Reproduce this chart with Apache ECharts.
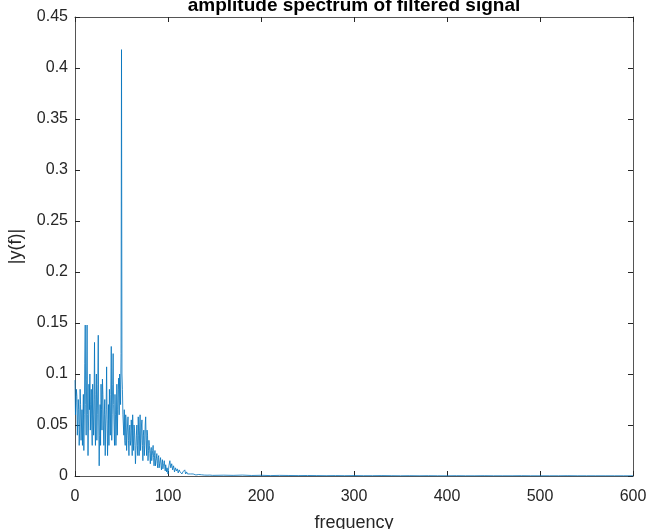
<!DOCTYPE html>
<html>
<head>
<meta charset="utf-8">
<script src="https://cdn.jsdelivr.net/npm/echarts@6/dist/echarts.min.js"></script>
<style>html,body{margin:0;padding:0;background:#fff;}#c{width:651px;height:529px;}</style>
</head>
<body>
<div id="c"></div>
<script>
// |y(f)| at whole-Hz frequencies 0..150
var ampLow = [
 0.094,0.072,0.078,0.055,0.065,0.045,0.070,0.050,0.030,0.080,
 0.060,0.148,0.040,0.148,0.020,0.090,0.100,0.070,0.050,0.090,
 0.040,0.131,0.030,0.100,0.060,0.138,0.010,0.070,0.090,0.045,
 0.080,0.030,0.075,0.050,0.107,0.020,0.070,0.085,0.040,0.127,
 0.060,0.120,0.050,0.080,0.030,0.090,0.065,0.096,0.100,0.070,
 0.418,0.085,0.050,0.065,0.030,0.055,0.040,0.058,0.020,0.050,
 0.035,0.045,0.060,0.025,0.045,0.012,0.040,0.030,0.058,0.020,
 0.060,0.035,0.055,0.015,0.045,0.030,0.058,0.020,0.040,0.025,
 0.030,0.012,0.028,0.020,0.030,0.010,0.025,0.015,0.022,0.008,
 0.020,0.012,0.018,0.006,0.016,0.010,0.015,0.005,0.012,0.008,
 0.002,0.010,0.015,0.008,0.012,0.006,0.010,0.004,0.008,0.005,
 0.007,0.003,0.006,0.004,0.005,0.002,0.004,0.003,0.006,0.002,
 0.004,0.002,0.003,0.001,0.002,0.002,0.001,0.002,0.001,0.0015,
 0.001,0.0012,0.0008,0.0015,0.001,0.0008,0.0012,0.0007,0.001,0.0009,
 0.0006,0.001,0.0008,0.0012,0.0006,0.0009,0.0007,0.001,0.0006,0.0008,
 0.0007
];
// |y(f)| at the half-Hz frequencies 0.5..99.5
var ampHalf = [
 0.060,0.085,0.040,0.075,0.030,0.085,0.035,0.065,0.055,0.025,
 0.110,0.070,0.095,0.060,0.050,0.065,0.045,0.085,0.030,0.060,
 0.075,0.050,0.080,0.035,0.090,0.050,0.040,0.030,0.065,0.095,
 0.050,0.060,0.020,0.065,0.055,0.045,0.030,0.060,0.080,0.035,
 0.090,0.070,0.030,0.060,0.050,0.040,0.085,0.060,0.090,0.120,
 0.100,0.060,0.040,0.035,0.060,0.025,0.050,0.035,0.045,0.030,
 0.055,0.020,0.040,0.050,0.030,0.025,0.050,0.020,0.040,0.045,
 0.025,0.050,0.030,0.040,0.020,0.050,0.035,0.045,0.015,0.035,
 0.022,0.025,0.015,0.025,0.018,0.020,0.010,0.017,0.012,0.018,
 0.008,0.015,0.010,0.013,0.007,0.012,0.009,0.011,0.004,0.006
];
var freqHigh = [160,170,180,190,200,210,220,230,240,250,260,270,280,290,300,
 310,320,330,340,350,360,370,380,390,400,410,420,430,440,450,460,470,480,490,500,
 510,520,530,540,550,560,570,580,590,600];
var ampHigh = [0.0008,0.0006,0.0009,0.0005,0.0007,0.0004,0.0006,0.0005,0.0004,0.0005,
 0.0004,0.0003,0.0004,0.0003,0.0004,0.0003,0.0003,0.0004,0.0003,0.0002,
 0.0003,0.0002,0.0003,0.0002,0.0002,0.0003,0.0002,0.0002,0.0003,0.0002,
 0.0002,0.0002,0.0003,0.0002,0.0002,0.0002,0.0002,0.0003,0.0002,0.0002,
 0.0002,0.0002,0.0002,0.0002,0.0002];

var data = [];
for (var i = 0; i < ampLow.length; i++) {
  data.push([i, ampLow[i]]);
  if (i < ampHalf.length) data.push([i + 0.5, ampHalf[i]]);
}
freqHigh.forEach(function(f,i){ data.push([f, ampHigh[i]]); });

var axisCol = '#262626';
var font = 'Liberation Sans, Arial, Helvetica, sans-serif';
var chart = echarts.init(document.getElementById('c'), null, {renderer:'canvas'});
var lineStyle = {color: '#555555', width: 1};
chart.setOption({
  animation: false,
  backgroundColor: '#ffffff',
  graphic: [{
    type: 'text', x: 354, y: 15,
    style: {text: 'amplitude spectrum of filtered signal', font: 'bold 19px ' + font,
      fill: '#000', textAlign: 'center', textVerticalAlign: 'bottom'}
  }],
  grid: {left: 75, right: 18, top: 17, bottom: 53, containLabel: false, outerBoundsMode: 'none'},
  xAxis: [{
    type: 'value', min: 0, max: 600, interval: 100,
    name: 'frequency', nameLocation: 'middle', nameGap: 38,
    nameTextStyle: {fontFamily: font, fontSize: 18, color: axisCol},
    axisLine: {show: true, onZero: false, lineStyle: lineStyle},
    axisTick: {show: true, inside: true, length: 5, lineStyle: {color: axisCol}},
    axisLabel: {fontFamily: font, fontSize: 16, color: axisCol, margin: 13},
    splitLine: {show: false}
  },{
    type: 'value', min: 0, max: 600, interval: 100, position: 'top',
    axisLine: {show: true, onZero: false, lineStyle: lineStyle},
    axisTick: {show: true, inside: true, length: 5, lineStyle: {color: axisCol}},
    axisLabel: {show: false}, splitLine: {show: false}
  }],
  yAxis: [{
    type: 'value', min: 0, max: 0.45, interval: 0.05,
    name: '|y(f)|', nameLocation: 'middle', nameGap: 50, nameRotate: 90,
    nameTextStyle: {fontFamily: font, fontSize: 18, color: axisCol},
    axisLine: {show: true, onZero: false, lineStyle: lineStyle},
    axisTick: {show: true, inside: true, length: 5, lineStyle: {color: axisCol}},
    axisLabel: {fontFamily: font, fontSize: 16, color: axisCol, margin: 7,
      formatter: function(v){ return String(Math.round(v*100)/100); }},
    splitLine: {show: false}
  },{
    type: 'value', min: 0, max: 0.45, interval: 0.05, position: 'right',
    axisLine: {show: true, onZero: false, lineStyle: lineStyle},
    axisTick: {show: true, inside: true, length: 5, lineStyle: {color: axisCol}},
    axisLabel: {show: false}, splitLine: {show: false}
  }],
  series: [{
    type: 'line', data: data, showSymbol: false, symbol: 'none',
    lineStyle: {color: '#0072BD', width: 0.8}, z: 1, clip: true
  }]
});
</script>
</body>
</html>
